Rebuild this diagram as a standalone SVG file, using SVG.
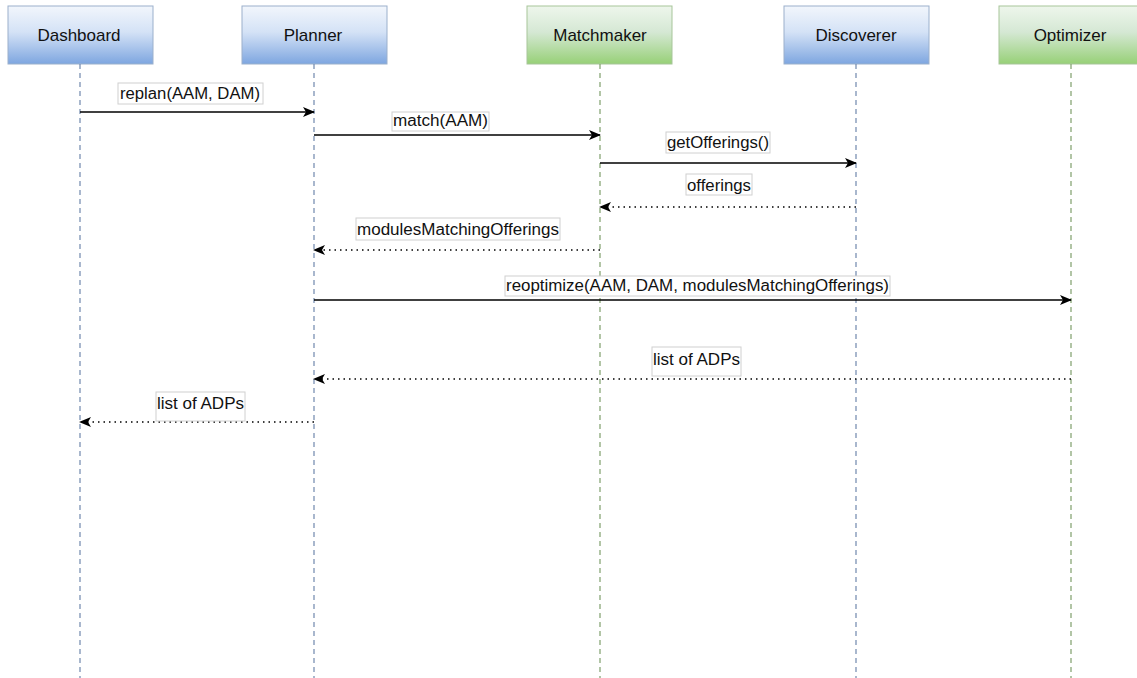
<svg xmlns="http://www.w3.org/2000/svg" width="1137" height="678" viewBox="0 0 1137 678">
<style>
text{font-family:"Liberation Sans",Arial,sans-serif;font-size:16px;fill:#111}
.h{font-size:17px;text-anchor:middle}
.lb{fill:#fff;stroke:#d0d0d0;stroke-width:1}
.ll{fill:none;stroke-width:1.2;stroke-dasharray:5 4}
.lbl{stroke:#7088ad}.lgr{stroke:#7f9f6c}
.m{fill:none;stroke:#000;stroke-width:1.3}
.r{fill:none;stroke:#000;stroke-width:1.3;stroke-dasharray:1.5 4}
.nb{stroke:#9bb0cc;stroke-width:1}
.ng{stroke:#a7c59a;stroke-width:1}
</style>
<defs>
<linearGradient id="gb" x1="0" y1="0" x2="0" y2="1"><stop offset="0" stop-color="#f2f6fc"/><stop offset="0.45" stop-color="#d4e2f6"/><stop offset="1" stop-color="#7ea6e0"/></linearGradient>
<linearGradient id="gg" x1="0" y1="0" x2="0" y2="1"><stop offset="0" stop-color="#eef6ec"/><stop offset="0.45" stop-color="#d5e8d4"/><stop offset="1" stop-color="#97d077"/></linearGradient>
<marker id="a" viewBox="0 0 12 10" refX="11" refY="5" markerWidth="12" markerHeight="10" markerUnits="userSpaceOnUse" orient="auto"><path d="M0,0 L12,5 L0,10 L3,5 Z" fill="#000"/></marker>
</defs>
<g id="dashboard"><rect x="8" y="6" width="145" height="58" fill="url(#gb)" class="nb"/><text class="h" x="79" y="41">Dashboard</text><line class="ll lbl" x1="80" y1="64" x2="80" y2="678"/></g>
<g id="planner"><rect x="242" y="6" width="145" height="58" fill="url(#gb)" class="nb"/><text class="h" x="313" y="41">Planner</text><line class="ll lbl" x1="314" y1="64" x2="314" y2="678"/></g>
<g id="matchmaker"><rect x="527" y="6" width="145" height="58" fill="url(#gg)" class="ng"/><text class="h" x="600" y="41">Matchmaker</text><line class="ll lgr" x1="600" y1="64" x2="600" y2="678"/></g>
<g id="discoverer"><rect x="784" y="6" width="145" height="58" fill="url(#gb)" class="nb"/><text class="h" x="856" y="41">Discoverer</text><line class="ll lbl" x1="856" y1="64" x2="856" y2="678"/></g>
<g id="optimizer"><rect x="999" y="6" width="145" height="58" fill="url(#gg)" class="ng"/><text class="h" x="1070" y="41">Optimizer</text><line class="ll lgr" x1="1071" y1="64" x2="1071" y2="678"/></g>
<g id="connectors">
<line class="m" x1="80" y1="112" x2="314" y2="112" marker-end="url(#a)"/>
<line class="m" x1="314" y1="135" x2="600" y2="135" marker-end="url(#a)"/>
<line class="m" x1="600" y1="163" x2="856" y2="163" marker-end="url(#a)"/>
<line class="r" x1="856" y1="207" x2="600" y2="207" marker-end="url(#a)"/>
<line class="r" x1="600" y1="250" x2="314" y2="250" marker-end="url(#a)"/>
<line class="m" x1="314" y1="300" x2="1071" y2="300" marker-end="url(#a)"/>
<line class="r" x1="1071" y1="379" x2="314" y2="379" marker-end="url(#a)"/>
<line class="r" x1="314" y1="422" x2="80" y2="422" marker-end="url(#a)"/>
</g>
<g id="labels">
<rect class="lb" x="118" y="83" width="145" height="21"/><text x="120" y="99" textLength="140" lengthAdjust="spacingAndGlyphs">replan(AAM, DAM)</text>
<rect class="lb" x="392" y="112" width="97" height="19"/><text x="393" y="126" textLength="95" lengthAdjust="spacingAndGlyphs">match(AAM)</text>
<rect class="lb" x="666" y="132" width="104" height="21"/><text x="667" y="148" textLength="102" lengthAdjust="spacingAndGlyphs">getOfferings()</text>
<rect class="lb" x="686" y="174" width="66" height="21"/><text x="687" y="191" textLength="64" lengthAdjust="spacingAndGlyphs">offerings</text>
<rect class="lb" x="356" y="218" width="204" height="22"/><text x="357" y="235" textLength="202" lengthAdjust="spacingAndGlyphs">modulesMatchingOfferings</text>
<rect class="lb" x="505" y="276" width="385" height="20"/><text x="506" y="291" textLength="383" lengthAdjust="spacingAndGlyphs">reoptimize(AAM, DAM, modulesMatchingOfferings)</text>
<rect class="lb" x="652" y="347" width="89" height="29"/><text x="653" y="365" textLength="87" lengthAdjust="spacingAndGlyphs">list of ADPs</text>
<rect class="lb" x="156" y="392" width="89" height="29"/><text x="157" y="409" textLength="87" lengthAdjust="spacingAndGlyphs">list of ADPs</text>
</g>
</svg>
